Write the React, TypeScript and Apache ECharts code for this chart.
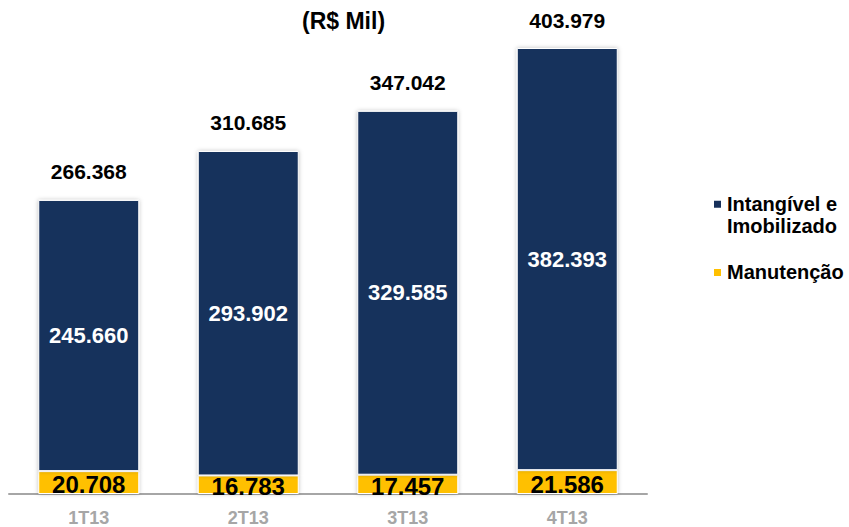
import React, { useEffect, useRef } from "react";
import * as echarts from "echarts";

const categories = ["1T13", "2T13", "3T13", "4T13"];
const intangivel = [245660, 293902, 329585, 382393];
const manutencao = [20708, 16783, 17457, 21586];
const seriesNames = ["Intangível e Imobilizado", "Manutenção"];
const titleText = "(R$ Mil)";

const FONT = "'Liberation Sans', Arial, sans-serif";
const NAVY = "#17305B";
const YELLOW = "#FFC000";

const fmt = (n: number) => String(n).replace(/\B(?=(\d{3})+(?!\d))/g, ".");

export default function App() {
  const ref = useRef<HTMLDivElement>(null);
  useEffect(() => {
    if (!ref.current) return;
    const chart = echarts.init(ref.current, undefined, { renderer: "svg" });
    const totals = intangivel.map((v, i) => v + manutencao[i]);
    const barShadow = { shadowColor: "rgba(0,0,0,0.25)", shadowBlur: 4 };
    chart.setOption({
      animation: false,
      backgroundColor: "#ffffff",
      title: {
        text: titleText,
        left: 302,
        top: 9,
        padding: 0,
        textStyle: { fontFamily: FONT, fontSize: 23, fontWeight: "bold", color: "#000" },
      },
      legend: {
        orient: "vertical",
        left: 712,
        top: 193,
        padding: 0,
        itemGap: 24.5,
        itemWidth: 9,
        itemHeight: 30.4,
        data: [
          { name: seriesNames[0], icon: "path://M0,0H10V10H0Z M0,33.75H0.01V33.76H0Z" },
          { name: seriesNames[1], icon: "path://M0,0H10V10H0Z" },
        ],
        formatter: (name: string) => (name === seriesNames[0] ? "Intangível e\nImobilizado" : name),
        textStyle: { fontFamily: FONT, fontSize: 20, fontWeight: "bold", color: "#000", lineHeight: 22 },
      },
      grid: { left: 9, right: 202, top: 10, bottom: 33, containLabel: false },
      xAxis: {
        type: "category",
        data: categories,
        axisLine: { show: true, lineStyle: { color: "#A6A6A6", width: 2 } },
        axisTick: { show: false },
        axisLabel: { color: "#A6A6A6", fontFamily: FONT, fontSize: 18, fontWeight: "bold", margin: 15 },
      },
      yAxis: {
        type: "value",
        min: 0,
        max: 438400,
        show: false,
        splitLine: { show: false },
      },
      series: [
        {
          name: seriesNames[1],
          type: "bar",
          stack: "total",
          barWidth: 101,
          data: manutencao,
          itemStyle: { color: YELLOW, borderColor: "#fff", borderWidth: 1, ...barShadow },
          label: {
            show: true,
            position: "inside",
            formatter: (p: any) => fmt(p.value),
            color: "#000",
            fontFamily: FONT,
            fontSize: 24,
            fontWeight: "bold",
            offset: [0, 2],
          },
        },
        {
          name: seriesNames[0],
          type: "bar",
          stack: "total",
          barWidth: 101,
          data: intangivel,
          itemStyle: { color: NAVY, borderColor: "#fff", borderWidth: 1, ...barShadow },
          label: {
            show: true,
            position: "inside",
            formatter: (p: any) => fmt(p.value),
            color: "#fff",
            fontFamily: FONT,
            fontSize: 22,
            fontWeight: "bold",
          },
        },
        {
          name: "Total",
          type: "scatter",
          data: totals,
          symbolSize: 1,
          itemStyle: { color: "rgba(0,0,0,0)", opacity: 1 },
          label: {
            show: true,
            position: "top",
            distance: 17,
            formatter: (p: any) => fmt(p.value),
            color: "#000000",
            opacity: 1,
            fontFamily: FONT,
            fontSize: 21,
            fontWeight: "bold",
          },
          emphasis: { disabled: true },
          z: 5,
        },
      ],
    });
    return () => chart.dispose();
  }, []);
  return <div ref={ref} style={{ position: "fixed", left: 0, top: 0, width: 849, height: 527 }} />;
}
